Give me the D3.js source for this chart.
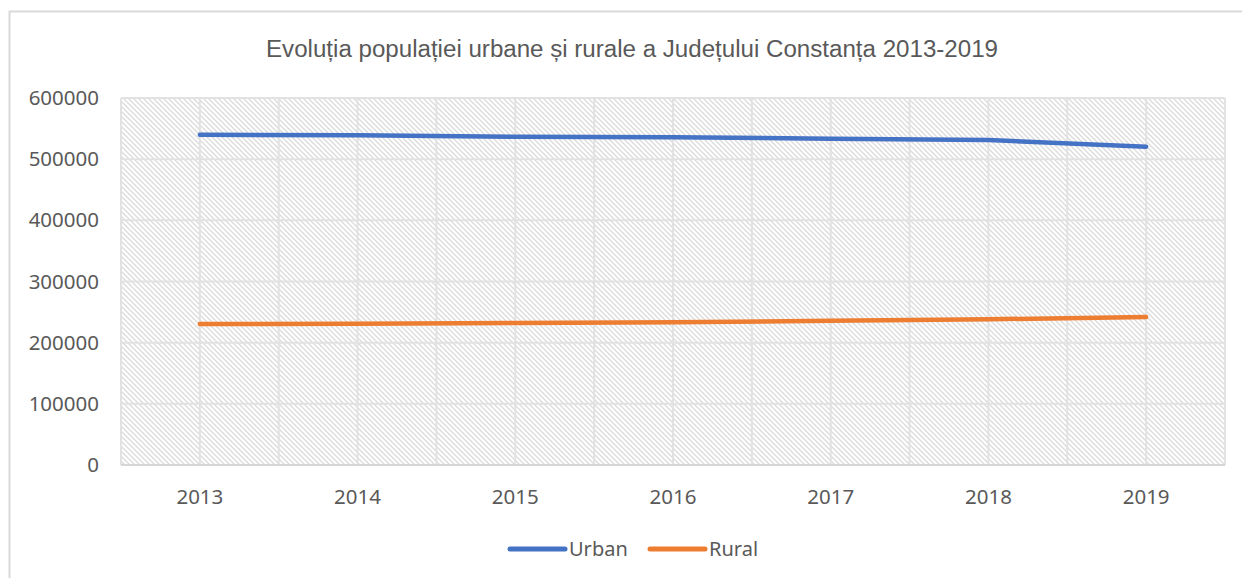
<!DOCTYPE html>
<html>
<head>
<meta charset="utf-8">
<script src="https://cdn.jsdelivr.net/npm/d3@7"></script>
<style>
  body { margin: 0; background: #fff; }
  text { fill: #595959; }
</style>
</head>
<body>
<script>
const width = 1242;
const height = 578;

// データ
const years = ["2013", "2014", "2015", "2016", "2017", "2018", "2019"];
const urban = [540000, 539000, 536700, 536000, 533500, 531300, 520400];
const rural = [230500, 231000, 232100, 233300, 235900, 238200, 242000];
const yTicks = [0, 100000, 200000, 300000, 400000, 500000, 600000];
const seriesNames = ["Urban", "Rural"];
const colors = ["#4472C4", "#ED7D31"];
const title = "Evoluția populației urbane și rurale a Județului Constanța 2013-2019";

const svg = d3.select("body").append("svg")
  .attr("width", width)
  .attr("height", height);

// 斜線パターン
const defs = svg.append("defs");
const pat = defs.append("pattern")
  .attr("id", "hatch")
  .attr("patternUnits", "userSpaceOnUse")
  .attr("width", 5)
  .attr("height", 5);
pat.append("rect").attr("width", 5).attr("height", 5).attr("fill", "#fff");
pat.append("path")
  .attr("d", "M-1,-1 L6,6 M-1,4 L1,6 M4,-1 L6,1")
  .attr("stroke", "#dcdcdc")
  .attr("stroke-width", 1.4);

// 外枠
svg.append("rect")
  .attr("x", 9.5).attr("y", 11.5)
  .attr("width", 1260).attr("height", 600)
  .attr("fill", "none")
  .attr("stroke", "#d9d9d9")
  .attr("stroke-width", 2);

// タイトル
svg.append("text")
  .attr("x", 632)
  .attr("y", 57)
  .attr("text-anchor", "middle")
  .style("font-family", "'Liberation Sans', Arial, sans-serif")
  .style("font-size", "23px")
  .attr("textLength", 732)
  .attr("lengthAdjust", "spacingAndGlyphs")
  .text(title);

const pLeft = 121, pRight = 1225, pTop = 98, pBottom = 465;

const x = d3.scaleBand().domain(years).range([pLeft, pRight]);
const y = d3.scaleLinear().domain([0, 600000]).range([pBottom, pTop]);

const g = svg.append("g");

// 背景
g.append("rect")
  .attr("x", pLeft).attr("y", pTop)
  .attr("width", pRight - pLeft).attr("height", pBottom - pTop)
  .attr("fill", "url(#hatch)");

// 縦グリッド（境界と中央）
const vLines = [];
years.forEach(yr => {
  vLines.push(x(yr));
  vLines.push(x(yr) + x.bandwidth() / 2);
});
vLines.push(pRight);
g.selectAll(".vgrid").data(vLines).enter().append("line")
  .attr("x1", d => d).attr("x2", d => d)
  .attr("y1", pTop).attr("y2", pBottom)
  .attr("stroke", "#e2e2e2")
  .attr("stroke-width", 2);

// 横グリッド
g.selectAll(".hgrid").data(yTicks).enter().append("line")
  .attr("x1", pLeft).attr("x2", pRight)
  .attr("y1", d => y(d)).attr("y2", d => y(d))
  .attr("stroke", d => d === 0 ? "#d6d6d6" : "#e2e2e2")
  .attr("stroke-width", 2);

// Y軸ラベル
const yAxis = d3.axisLeft(y).tickValues(yTicks).tickFormat(d3.format("d")).tickSize(0).tickPadding(22);
const ya = svg.append("g").attr("transform", `translate(${pLeft},0)`).call(yAxis);
ya.select(".domain").remove();
ya.selectAll("text")
  .style("font-family", "'Noto Sans', sans-serif")
  .style("font-size", "20.5px")
  .attr("fill", "#595959");

// X軸ラベル
const xAxis = d3.axisBottom(x).tickSize(0).tickPadding(24);
const xa = svg.append("g").attr("transform", `translate(0,${pBottom})`).call(xAxis);
xa.select(".domain").remove();
xa.selectAll("text")
  .style("font-family", "'Noto Sans', sans-serif")
  .style("font-size", "20.5px")
  .attr("fill", "#595959");

// 折れ線
const line = d3.line()
  .x((d, i) => x(years[i]) + x.bandwidth() / 2)
  .y(d => y(d));

[urban, rural].forEach((s, i) => {
  g.append("path")
    .datum(s)
    .attr("d", line)
    .attr("fill", "none")
    .attr("stroke", colors[i])
    .attr("stroke-width", 4.5)
    .attr("stroke-linecap", "round")
    .attr("stroke-linejoin", "round");
});

// 凡例
const legendX = [510, 650];
seriesNames.forEach((name, i) => {
  svg.append("line")
    .attr("x1", legendX[i]).attr("x2", legendX[i] + 55)
    .attr("y1", 549).attr("y2", 549)
    .attr("stroke", colors[i])
    .attr("stroke-width", 5)
    .attr("stroke-linecap", "round");
  svg.append("text")
    .attr("x", legendX[i] + 59)
    .attr("y", 556)
    .style("font-family", "'Noto Sans', sans-serif")
    .style("font-size", "20px")
    .text(name);
});
</script>
</body>
</html>
